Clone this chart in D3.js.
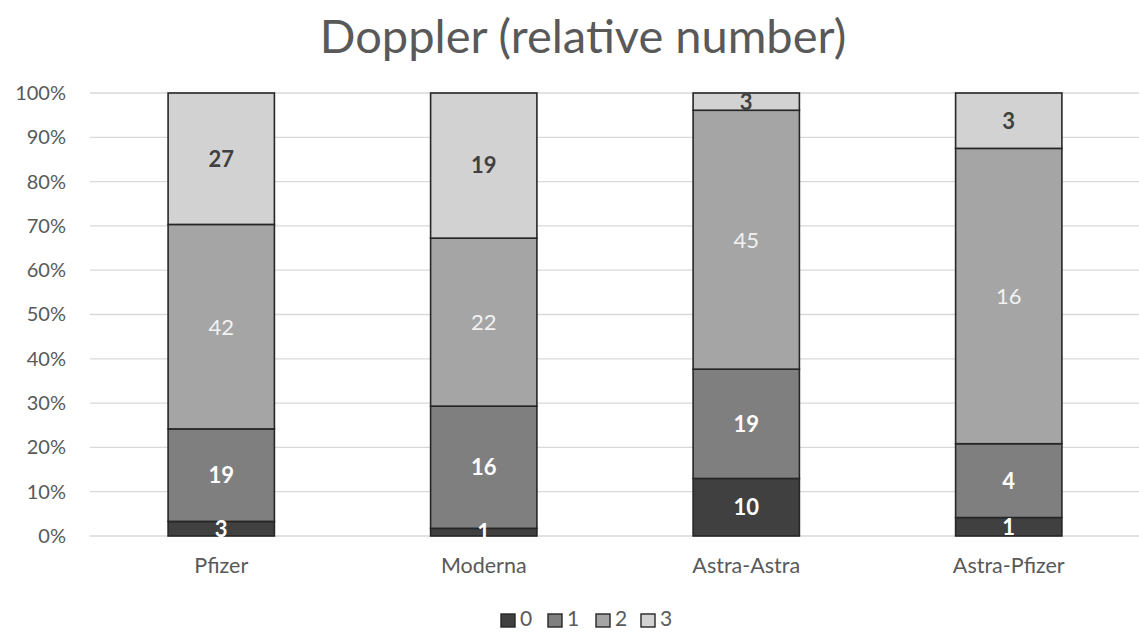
<!DOCTYPE html>
<html><head><meta charset="utf-8">
<script src="https://cdn.jsdelivr.net/npm/d3@7"></script>
<style>body{margin:0;background:#fff;}svg{display:block;}</style>
</head><body>
<svg id="c" width="1139" height="633"></svg>
<script>
const categories = ["Pfizer","Moderna","Astra-Astra","Astra-Pfizer"];
const seriesNames = ["0","1","2","3"];
const s0 = [3,1,10,1];
const s1 = [19,16,19,4];
const s2 = [42,22,45,16];
const s3 = [27,19,3,3];
const yTicks = [0,0.1,0.2,0.3,0.4,0.5,0.6,0.7,0.8,0.9,1];
const titleText = "Doppler (relative number)";

const colors = ["#404040","#7f7f7f","#a5a5a5","#d2d2d2"];
const labelColors = ["#ffffff","#ffffff","#f2f2f2","#404040"];
const labelWeights = ["bold","bold","normal","bold"];
const font = "Lato, 'Open Sans', sans-serif";

const rows = categories.map((c,i)=>({cat:c,"0":s0[i],"1":s1[i],"2":s2[i],"3":s3[i]}));
const stack = d3.stack().keys(seriesNames).offset(d3.stackOffsetExpand);
const stacked = stack(rows);

const svg = d3.select("#c");
const mLeft = 90, mRight = 1140, mTop = 93, mBottom = 536;
const x = d3.scaleBand().domain(categories).range([mLeft,mRight]).padding(0);
const y = d3.scaleLinear().domain([0,1]).range([mBottom,mTop]);
const barW = x.bandwidth()*0.405;

svg.append("text").attr("x",583).attr("y",53).attr("text-anchor","middle")
  .attr("font-family",font).attr("font-size",47).attr("fill","#595959").text(titleText);

const g = svg.append("g");
g.selectAll("line.grid").data(yTicks).enter().append("line")
  .attr("x1",mLeft).attr("x2",mRight).attr("y1",d=>y(d)).attr("y2",d=>y(d))
  .attr("stroke","#d9d9d9").attr("stroke-width",1.3);

const yAxis = d3.axisLeft(y).tickValues(yTicks).tickFormat(d3.format(".0%")).tickSize(0).tickPadding(24);
const ya = svg.append("g").attr("transform",`translate(${mLeft},0)`).call(yAxis);
ya.select(".domain").remove();
ya.selectAll("text").attr("font-family",font).attr("font-size",20).attr("fill","#595959");

const xAxis = d3.axisBottom(x).tickSize(0).tickPadding(22);
const xa = svg.append("g").attr("transform",`translate(0,${mBottom})`).call(xAxis);
xa.select(".domain").remove();
xa.selectAll("text").attr("font-family",font).attr("font-size",21.5).attr("fill","#595959");

stacked.forEach((ser,si)=>{
  const sg = svg.append("g");
  sg.selectAll("rect").data(ser).enter().append("rect")
    .attr("x",d=>x(d.data.cat)+x.bandwidth()/2-barW/2)
    .attr("y",d=>y(d[1])).attr("width",barW).attr("height",d=>y(d[0])-y(d[1]))
    .attr("fill",colors[si]).attr("stroke","#262626").attr("stroke-width",1.6);
});
stacked.forEach((ser,si)=>{
  svg.append("g").selectAll("text").data(ser).enter().append("text")
    .attr("x",d=>x(d.data.cat)+x.bandwidth()/2)
    .attr("y",d=>(y(d[0])+y(d[1]))/2)
    .attr("dy","0.36em").attr("text-anchor","middle")
    .attr("font-family",font).attr("font-size",22).attr("font-weight",labelWeights[si])
    .attr("fill",labelColors[si]).text(d=>d.data[seriesNames[si]]);
});

// legend
const legX = [501,548,596,641];
const lg = svg.append("g");
seriesNames.forEach((n,i)=>{
  lg.append("rect").attr("x",legX[i]).attr("y",614).attr("width",14).attr("height",13)
    .attr("fill",colors[i]).attr("stroke","#262626").attr("stroke-width",1.4);
  lg.append("text").attr("x",legX[i]+19).attr("y",626).attr("font-family",font).attr("font-size",21)
    .attr("fill","#595959").text(n);
});
</script>
</body></html>
